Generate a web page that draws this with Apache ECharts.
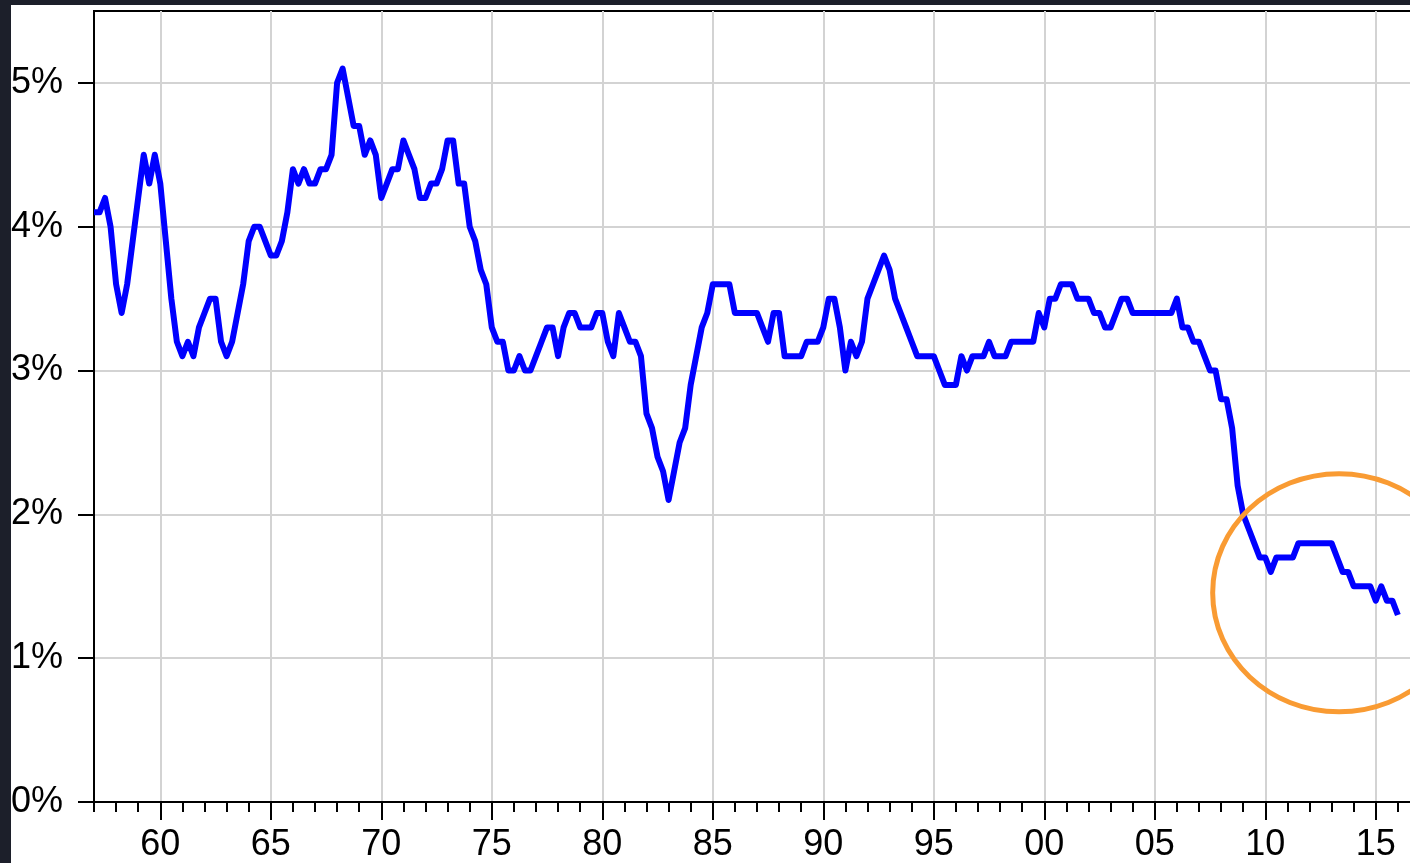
<!DOCTYPE html>
<html>
<head>
<meta charset="utf-8">
<script src="https://cdn.jsdelivr.net/npm/echarts@6/dist/echarts.min.js"></script>
<style>
  html, body { margin: 0; padding: 0; background: #1c1f2a; }
  #paper { position: absolute; left: 11px; top: 5px; width: 1399px; height: 858px; background: #fff; }
  #chart { position: absolute; left: 0; top: 0; width: 1410px; height: 863px; }
</style>
</head>
<body>
<div id="paper"></div>
<div id="chart"></div>
<script>
  // quarterly series, first observation 1957Q1
  const startYear = 1957;
  const values = [
    4.1, 4.1, 4.2, 4.0, 3.6, 3.4, 3.6, 3.9, 4.2, 4.5, 4.3, 4.5,
    4.3, 3.9, 3.5, 3.2, 3.1, 3.2, 3.1, 3.3, 3.4, 3.5, 3.5, 3.2,
    3.1, 3.2, 3.4, 3.6, 3.9, 4.0, 4.0, 3.9, 3.8, 3.8, 3.9, 4.1,
    4.4, 4.3, 4.4, 4.3, 4.3, 4.4, 4.4, 4.5, 5.0, 5.1, 4.9, 4.7,
    4.7, 4.5, 4.6, 4.5, 4.2, 4.3, 4.4, 4.4, 4.6, 4.5, 4.4, 4.2,
    4.2, 4.3, 4.3, 4.4, 4.6, 4.6, 4.3, 4.3, 4.0, 3.9, 3.7, 3.6,
    3.3, 3.2, 3.2, 3.0, 3.0, 3.1, 3.0, 3.0, 3.1, 3.2, 3.3, 3.3,
    3.1, 3.3, 3.4, 3.4, 3.3, 3.3, 3.3, 3.4, 3.4, 3.2, 3.1, 3.4,
    3.3, 3.2, 3.2, 3.1, 2.7, 2.6, 2.4, 2.3, 2.1, 2.3, 2.5, 2.6,
    2.9, 3.1, 3.3, 3.4, 3.6, 3.6, 3.6, 3.6, 3.4, 3.4, 3.4, 3.4,
    3.4, 3.3, 3.2, 3.4, 3.4, 3.1, 3.1, 3.1, 3.1, 3.2, 3.2, 3.2,
    3.3, 3.5, 3.5, 3.3, 3.0, 3.2, 3.1, 3.2, 3.5, 3.6, 3.7, 3.8,
    3.7, 3.5, 3.4, 3.3, 3.2, 3.1, 3.1, 3.1, 3.1, 3.0, 2.9, 2.9,
    2.9, 3.1, 3.0, 3.1, 3.1, 3.1, 3.2, 3.1, 3.1, 3.1, 3.2, 3.2,
    3.2, 3.2, 3.2, 3.4, 3.3, 3.5, 3.5, 3.6, 3.6, 3.6, 3.5, 3.5,
    3.5, 3.4, 3.4, 3.3, 3.3, 3.4, 3.5, 3.5, 3.4, 3.4, 3.4, 3.4,
    3.4, 3.4, 3.4, 3.4, 3.5, 3.3, 3.3, 3.2, 3.2, 3.1, 3.0, 3.0,
    2.8, 2.8, 2.6, 2.2, 2.0, 1.9, 1.8, 1.7, 1.7, 1.6, 1.7, 1.7,
    1.7, 1.7, 1.8, 1.8, 1.8, 1.8, 1.8, 1.8, 1.8, 1.7, 1.6, 1.6,
    1.5, 1.5, 1.5, 1.5, 1.4, 1.5, 1.4, 1.4, 1.3
  ];
  const yearTicks = [1957, 1958, 1959, 1960, 1961, 1962, 1963, 1964, 1965, 1966, 1967, 1968, 1969, 1970,
    1971, 1972, 1973, 1974, 1975, 1976, 1977, 1978, 1979, 1980, 1981, 1982, 1983, 1984, 1985, 1986, 1987,
    1988, 1989, 1990, 1991, 1992, 1993, 1994, 1995, 1996, 1997, 1998, 1999, 2000, 2001, 2002, 2003, 2004,
    2005, 2006, 2007, 2008, 2009, 2010, 2011, 2012, 2013, 2014, 2015, 2016];
  const yearLabels = [1960, 1965, 1970, 1975, 1980, 1985, 1990, 1995, 2000, 2005, 2010, 2015];
  const pctTicks = [0, 1, 2, 3, 4, 5];

  // highlight ring around the post-2009 part (data coords: year, %)
  const ringCenter = [2013.34, 1.455];
  const ringRadius = [5.72, 0.828];

  const font = 'Liberation Sans, Arial, sans-serif';
  const seriesData = values.map(function (v, i) {
    return [startYear + i / 4, v];
  });

  // the frame runs off the right edge of the picture
  const xMax = 2016.73;

  const chart = echarts.init(document.getElementById('chart'));
  chart.setOption({
    animation: false,
    backgroundColor: 'transparent',
    grid: {
      left: 94, top: 11, width: 1320, height: 791,
      outerBoundsMode: 'none',
      show: true, borderColor: '#000', borderWidth: 2, backgroundColor: 'transparent'
    },
    xAxis: [
      {
        type: 'value', min: 1957, max: xMax, position: 'bottom',
        axisLine: { lineStyle: { color: '#000', width: 2 } },
        axisTick: { customValues: yearTicks, length: 10, lineStyle: { color: '#000', width: 2 } },
        axisLabel: { show: false },
        splitLine: { show: false }
      },
      {
        type: 'value', min: 1957, max: xMax, position: 'bottom',
        axisLine: { show: false },
        axisTick: { customValues: yearLabels, length: 18, lineStyle: { color: '#000', width: 2 } },
        axisLabel: {
          customValues: yearLabels, margin: 25, color: '#000', fontSize: 36, fontFamily: font,
          formatter: function (v) { return String(v % 100).padStart(2, '0'); }
        },
        splitLine: { show: true, lineStyle: { color: '#d3d3d3', width: 2 } }
      }
    ],
    yAxis: {
      type: 'value', min: 0, max: 5.5,
      axisLine: { show: true, lineStyle: { color: '#000', width: 2 } },
      axisTick: { show: true, customValues: pctTicks, length: 16, lineStyle: { color: '#000', width: 2 } },
      axisLabel: {
        customValues: pctTicks, margin: 31, color: '#000', fontSize: 36, fontFamily: font,
        padding: [0, 0, 9, 0],
        formatter: function (v) { return v + '%'; }
      },
      splitLine: { show: true, lineStyle: { color: '#d3d3d3', width: 2 } }
    },
    series: [
      {
        type: 'line',
        xAxisIndex: 0,
        data: seriesData,
        showSymbol: false,
        lineStyle: { color: '#0000ff', width: 6, join: 'round' }
      }
    ]
  });

  const c = chart.convertToPixel({ xAxisIndex: 0, yAxisIndex: 0 }, ringCenter);
  const e = chart.convertToPixel({ xAxisIndex: 0, yAxisIndex: 0 },
    [ringCenter[0] + ringRadius[0], ringCenter[1] - ringRadius[1]]);
  chart.setOption({
    graphic: [{
      type: 'ellipse', z: 100,
      shape: { cx: c[0], cy: c[1], rx: e[0] - c[0], ry: e[1] - c[1] },
      style: { fill: 'none', stroke: '#f99b33', lineWidth: 5 }
    }]
  });
</script>
</body>
</html>
